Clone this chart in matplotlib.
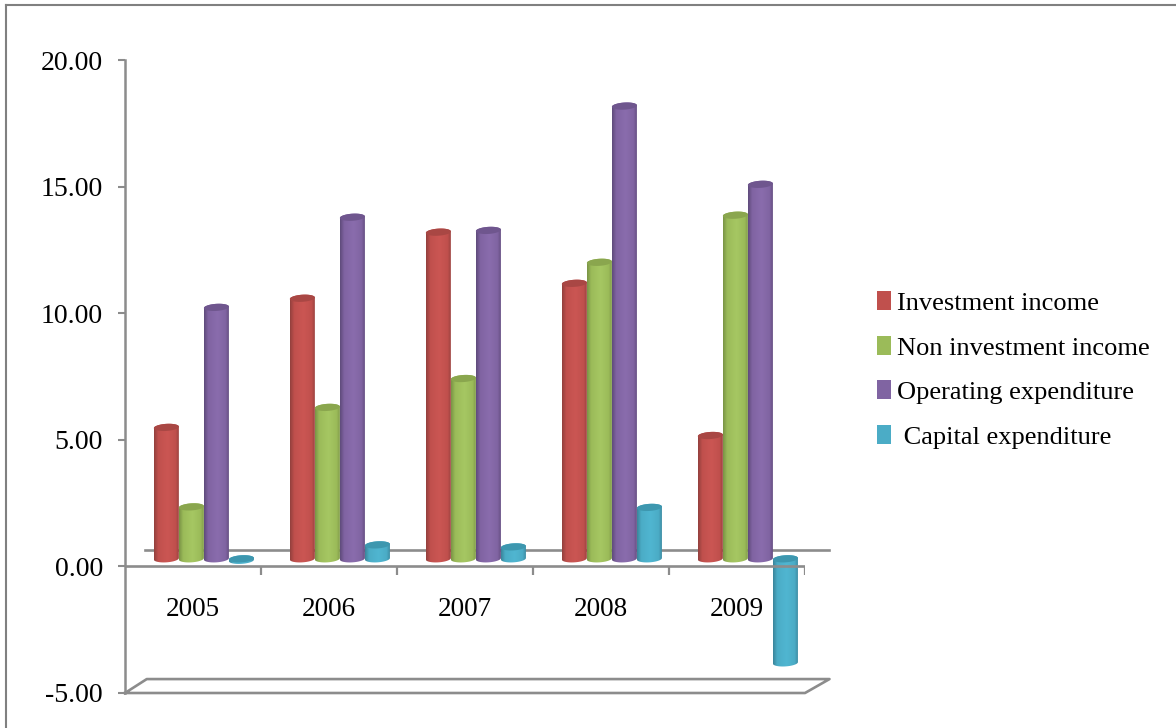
import numpy as np
import matplotlib
matplotlib.use('Agg')
import matplotlib.pyplot as plt
from matplotlib.colors import LinearSegmentedColormap
from matplotlib.lines import Line2D
from matplotlib.patches import Patch, PathPatch, Polygon
from matplotlib.path import Path

plt.rcParams['font.family'] = ['Liberation Serif', 'DejaVu Serif']

years = ['2005', '2006', '2007', '2008', '2009']
investment_income = [5.19, 10.29, 12.90, 10.88, 4.87]
non_investment_income = [2.05, 5.98, 7.12, 11.71, 13.57]
operating_expenditure = [9.93, 13.49, 12.97, 17.88, 14.79]
capital_expenditure = [-0.06, 0.55, 0.47, 2.03, -4.11]
series_names = ['Investment income', 'Non investment income', 'Operating expenditure', ' Capital expenditure']

# dark edge, highlight and cap colour for each cylinder
base_colors = ['#C0504D', '#9BBB59', '#8064A2', '#4BACC6']
edge_colors = ['#93403D', '#7A9446', '#5F4B7B', '#3A859B']
light_colors = ['#CB5653', '#A6C763', '#8A6CAD', '#50B6D1']
cap_colors = ['#A94744', '#8AA64E', '#6F568E', '#3D97AF']

GRAY = '#8C8C8C'
BAR_W = 0.184
FLOOR = 0.30    # cylinders stand a little above the zero line
CAP_H = 0.14    # half height of the elliptical ends
TILT = 0.03


def ellipse_pts(cx, cy, t):
    a = BAR_W / 2
    return cx + a * np.cos(t), cy + CAP_H * np.sin(t) + TILT * np.cos(t)


def cylinder(ax, cx, value, k, z):
    y0 = FLOOR
    y1 = FLOOR + value
    low, high = min(y0, y1), max(y0, y1)
    lo_t = np.linspace(np.pi, 2 * np.pi, 40)
    hi_t = np.linspace(0, np.pi, 40)
    xb, yb = ellipse_pts(cx, low, lo_t)
    xt, yt = ellipse_pts(cx, high, hi_t)
    outline = np.column_stack([np.r_[xb, xt], np.r_[yb, yt]])

    cmap = LinearSegmentedColormap.from_list(
        'c', [(0, edge_colors[k]), (0.16, base_colors[k]), (0.52, light_colors[k]),
              (0.84, base_colors[k]), (1, edge_colors[k])])
    shade = np.linspace(0, 1, 64).reshape(1, -1)
    im = ax.imshow(shade, cmap=cmap, aspect='auto', zorder=z, interpolation='bilinear',
                   extent=[cx - BAR_W / 2, cx + BAR_W / 2, low - 0.3, high + 0.3])
    clip = PathPatch(Path(np.vstack([outline, outline[0]])), transform=ax.transData)
    im.set_clip_path(clip)

    # end cap seen from above
    t = np.linspace(0, 2 * np.pi, 80)
    xc, yc = ellipse_pts(cx, high, t)
    ax.add_patch(Polygon(np.column_stack([xc, yc]), closed=True, fc=cap_colors[k],
                         ec='none', zorder=z + 0.1))


fig = plt.figure(figsize=(11.76, 7.28), dpi=100)
ax = fig.add_axes([125 / 1176, 35 / 728, 680 / 1176, 633 / 728])

x = np.arange(len(years))
all_series = [investment_income, non_investment_income, operating_expenditure, capital_expenditure]
offsets = np.array([-1.5, -0.5, 0.5, 1.5]) * BAR_W + 0.08
for k, vals in enumerate(all_series):
    for i, v in enumerate(vals):
        cylinder(ax, x[i] + offsets[k], v, k, 3 + k * 0.2 + i)

ax.set_xlim(-0.5, 4.5)
ax.set_ylim(-5, 20)

for side in ['top', 'right', 'bottom']:
    ax.spines[side].set_visible(False)
ax.spines['left'].set_color(GRAY)
ax.spines['left'].set_linewidth(1.8)
ax.spines['left'].set_zorder(20)

ax.set_yticks([-5, 0, 5, 10, 15, 20])
ax.set_yticklabels(['-5.00', '0.00', '5.00', '10.00', '15.00', '20.00'], fontsize=20)
ax.tick_params(axis='y', length=5, width=1.5, color=GRAY, pad=11)

# zero line with ticks between the years, year labels centred below it
ax.plot([-0.5, 4.5], [0, 0], color=GRAY, lw=1.9, zorder=20, solid_capstyle='butt')
ax.set_xticks(np.arange(-0.5, 5, 1))
ax.set_xticklabels([])
ax.tick_params(axis='x', length=0)
for i, year in enumerate(years):
    ax.text(x[i], -1.72, year, ha='center', va='center', fontsize=19.5, color='black')
for b in np.arange(0.5, 5, 1):
    ax.plot([b, b], [0, -0.32], color=GRAY, lw=1.6, zorder=20, solid_capstyle='butt')

# back wall line and floor of the 3d box
ax.plot([-0.35, 4.68], [0.63, 0.63], color=GRAY, lw=1.9, zorder=1, clip_on=False)
floor_x = [-0.5, -0.34, 4.68, 4.5, -0.5]
floor_y = [-5, -4.45, -4.45, -5, -5]
ax.plot(floor_x, floor_y, color=GRAY, lw=1.9, zorder=1, clip_on=False)

# outer frame of the chart area, only top and left edges
fig.add_artist(Line2D([6 / 1176, 6 / 1176], [0, 1 - 5 / 728], color='#808080', lw=1.5))
fig.add_artist(Line2D([6 / 1176, 1], [1 - 5 / 728, 1 - 5 / 728], color='#808080', lw=1.5))

handles = [Patch(fc=c, ec='none') for c in base_colors]
fig.legend(handles, series_names, loc='center left', bbox_to_anchor=(877 / 1176, 1 - 370 / 728),
           frameon=False, fontsize=19, handlelength=0.52, handleheight=0.72,
           handletextpad=0.23, labelspacing=0.79, borderpad=0, borderaxespad=0)

fig.savefig('out.png', dpi=100)
